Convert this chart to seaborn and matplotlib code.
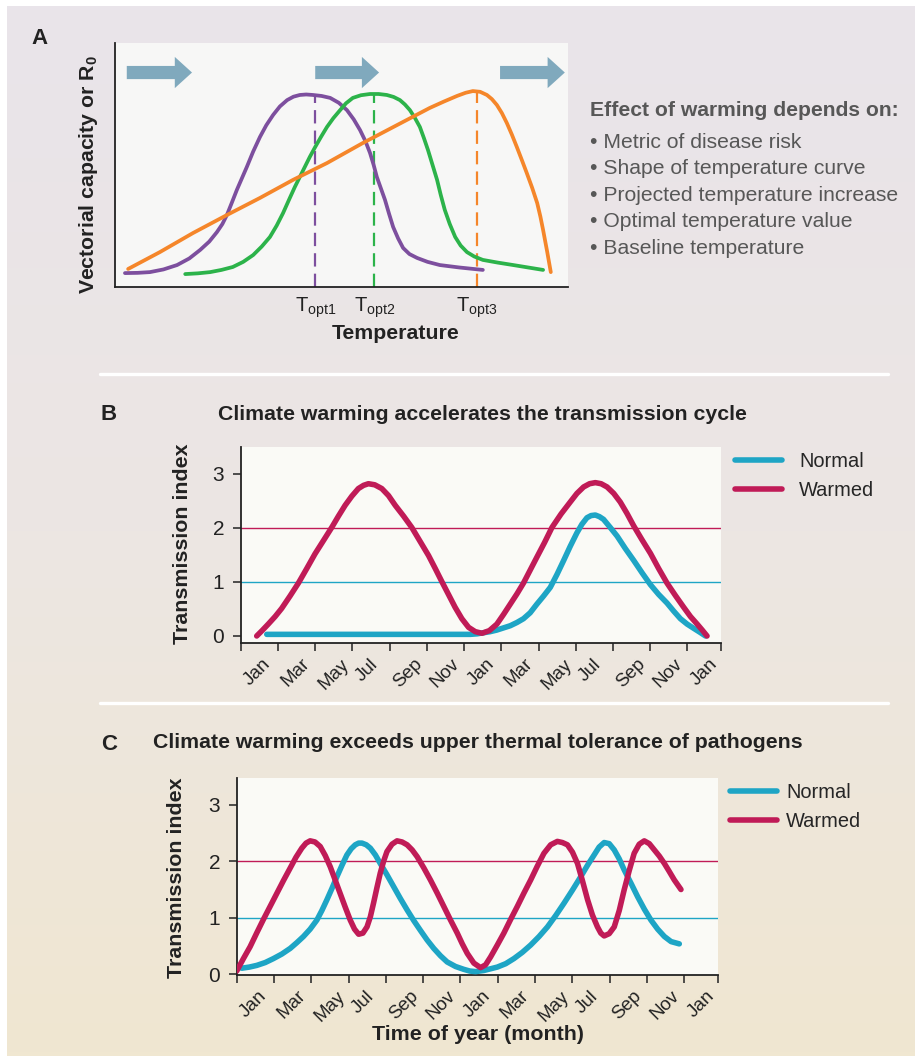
import numpy as np
import pandas as pd
import matplotlib.pyplot as plt
import seaborn as sns
from matplotlib.colors import LinearSegmentedColormap
from matplotlib.lines import Line2D
from matplotlib.patches import FancyArrow

# ---- Panel A: thermal performance curves (arbitrary units, 0-100)
purple_temp = [2.2, 5.0, 7.7, 10.7, 13.7, 16.4, 18.8, 20.8, 22.5, 23.7, 24.7, 25.8, 26.9,
               28.0, 29.1, 30.5, 32.0, 33.4, 34.9, 36.4, 38.0, 39.4, 40.8, 42.2, 43.7,
               45.6, 47.5, 49.4, 51.2, 52.7, 54.1, 55.3, 56.3, 57.1, 57.8, 58.7, 59.6,
               60.5, 61.4, 62.5, 63.6, 65.0, 66.7, 69.0, 71.7, 76.0, 81.2]
purple_cap = [5.7, 5.8, 6.1, 7.2, 9.0, 11.7, 15.2, 18.6, 22.5, 25.8, 29.5, 34.6, 39.8,
              44.5, 49.2, 55.5, 61.5, 66.3, 70.5, 74.0, 76.6, 78.0, 78.7, 78.9, 78.7,
              78.3, 77.5, 75.5, 72.5, 68.7, 64.3, 59.7, 54.9, 50.0, 45.1, 40.4, 35.7,
              30.0, 24.6, 19.9, 16.0, 13.5, 11.9, 10.3, 9.0, 8.0, 7.0]
green_temp = [15.5, 18.3, 21.0, 23.5, 26.0, 28.3, 30.5, 32.4, 34.2, 35.7, 37.1, 38.4, 39.7,
              40.8, 41.9, 43.0, 44.2, 45.5, 46.8, 48.2, 49.7, 51.0, 52.5, 54.3, 56.3,
              58.2, 60.0, 61.5, 62.9, 64.0, 65.1, 66.2, 67.3, 68.2, 69.1, 70.1, 71.1,
              71.9, 72.8, 73.9, 75.1, 76.3, 77.7, 79.3, 81.2, 84.5, 87.9, 91.2, 94.5]
green_cap = [5.3, 5.6, 6.1, 7.0, 8.2, 10.3, 13.1, 16.6, 20.5, 25.2, 30.3, 35.7, 41.0,
             45.1, 49.2, 53.3, 57.4, 61.6, 65.6, 69.2, 72.5, 75.3, 77.5, 78.6, 79.1,
             79.1, 78.7, 77.9, 76.6, 74.8, 72.5, 69.3, 65.6, 61.0, 56.1, 50.0, 43.9,
             37.8, 31.6, 25.8, 20.5, 17.0, 14.3, 12.5, 11.1, 10.0, 9.0, 8.0, 7.0]
orange_temp = [2.9, 9.9, 17.2, 24.7, 32.0, 39.3, 46.8, 54.7, 62.3, 66.0, 69.5, 72.6, 75.5,
               77.4, 79.0, 80.6, 82.1, 83.2, 84.3, 85.4, 86.5, 87.6, 88.7, 89.8, 90.9,
               92.1, 93.2, 93.9, 94.5, 95.4, 96.2]
orange_cap = [7.4, 14.3, 22.1, 29.5, 36.5, 43.9, 50.8, 59.0, 66.4, 70.0, 73.4, 76.0, 78.3,
              79.6, 80.3, 80.0, 78.7, 77.0, 74.6, 71.3, 67.2, 62.5, 57.4, 52.1, 46.7,
              40.6, 34.4, 28.9, 23.4, 14.5, 6.1]
topt_temp = [44.2, 57.2, 79.9]
topt_cap = [78.9, 79.1, 80.3]
topt_labels = [r'T$_{\rm opt1}$', r'T$_{\rm opt2}$', r'T$_{\rm opt3}$']
effect_title = 'Effect of warming depends on:'
effect_items = ['Metric of disease risk', 'Shape of temperature curve',
                'Projected temperature increase', 'Optimal temperature value',
                'Baseline temperature']

# ---- Panel B: accelerated transmission cycle (months since Jan)
b_warm_month = [0.86, 1.15, 1.48, 1.85, 2.20, 2.65, 3.10, 3.55, 3.99, 4.45, 4.89, 5.25,
                5.61, 5.97, 6.32, 6.60, 6.86, 7.20, 7.58, 7.94, 8.30, 8.75, 9.19, 9.64,
                10.09, 10.45, 10.80, 11.16, 11.52, 11.88, 12.24, 12.60, 12.96, 13.36,
                13.76, 14.12, 14.48, 14.84, 15.19, 15.55, 15.91, 16.32, 16.72, 17.21,
                17.70, 18.06, 18.42, 18.74, 19.05, 19.36, 19.68, 20.04, 20.39, 20.75,
                21.11, 21.56, 22.01, 22.45, 22.90, 23.35, 23.80, 24.16, 24.52, 24.79, 25.05]
b_warm = [0.00, 0.10, 0.22, 0.36, 0.51, 0.74, 0.98, 1.25, 1.52, 1.77, 2.01, 2.22,
          2.42, 2.59, 2.73, 2.79, 2.82, 2.80, 2.73, 2.60, 2.42, 2.22, 2.01, 1.75,
          1.49, 1.25, 1.01, 0.77, 0.53, 0.32, 0.16, 0.08, 0.05, 0.10,
          0.22, 0.40, 0.59, 0.78, 0.98, 1.22, 1.46, 1.73, 2.01, 2.26,
          2.48, 2.64, 2.76, 2.82, 2.84, 2.82, 2.76, 2.64, 2.48, 2.27,
          2.04, 1.78, 1.53, 1.25, 0.98, 0.75, 0.53, 0.36, 0.22, 0.11, 0.00]
b_norm_month = [1.40, 12.33, 12.70, 13.04, 13.40, 13.76, 14.12, 14.48, 14.84, 15.19, 15.55,
                15.91, 16.27, 16.63, 16.99, 17.35, 17.70, 18.06, 18.33, 18.60, 18.82,
                19.05, 19.27, 19.49, 19.85, 20.22, 20.66, 21.11, 21.56, 22.01, 22.45,
                22.90, 23.26, 23.62, 23.98, 24.34, 24.66, 24.97]
b_norm = [0.03, 0.03, 0.04, 0.06, 0.08, 0.11, 0.15, 0.19, 0.25, 0.32, 0.43,
          0.59, 0.74, 0.90, 1.14, 1.40, 1.66, 1.91, 2.07, 2.19, 2.23,
          2.24, 2.21, 2.16, 2.01, 1.85, 1.62, 1.40, 1.17, 0.95, 0.77,
          0.61, 0.46, 0.32, 0.22, 0.14, 0.07, 0.00]

# ---- Panel C: warming exceeds upper thermal tolerance
c_warm_month = [0.00, 0.36, 0.72, 1.07, 1.43, 1.79, 2.15, 2.51, 2.87, 3.18, 3.49, 3.72,
                3.94, 4.20, 4.48, 4.75, 5.02, 5.28, 5.55, 5.82, 6.09, 6.32, 6.54, 6.77,
                6.99, 7.17, 7.34, 7.52, 7.70, 7.88, 8.06, 8.33, 8.60, 8.87, 9.14, 9.41,
                9.68, 10.04, 10.39, 10.75, 11.11, 11.47, 11.83, 12.10, 12.37, 12.72,
                13.08, 13.35, 13.62, 13.98, 14.33, 14.69, 15.05, 15.41, 15.77, 16.12,
                16.48, 16.84, 17.20, 17.47, 17.74, 18.01, 18.28, 18.55, 18.82, 19.08,
                19.35, 19.53, 19.71, 19.98, 20.25, 20.52, 20.78, 21.05, 21.32, 21.59,
                21.86, 22.13, 22.40, 22.67, 22.94, 23.20, 23.47, 23.83]
c_warm = [0.06, 0.28, 0.49, 0.73, 0.97, 1.20, 1.43, 1.66, 1.88, 2.07, 2.23, 2.32,
          2.36, 2.34, 2.26, 2.10, 1.90, 1.67, 1.43, 1.19, 0.96, 0.80, 0.71, 0.73,
          0.84, 1.02, 1.26, 1.53, 1.79, 2.00, 2.17, 2.30, 2.36, 2.34, 2.29, 2.20,
          2.08, 1.88, 1.67, 1.44, 1.20, 0.96, 0.73, 0.54, 0.37, 0.20,
          0.12, 0.17, 0.31, 0.52, 0.73, 0.97, 1.20, 1.44, 1.67, 1.91,
          2.14, 2.29, 2.35, 2.33, 2.29, 2.16, 1.96, 1.65, 1.32, 1.05,
          0.84, 0.73, 0.68, 0.72, 0.84, 1.13, 1.49, 1.83, 2.14, 2.30,
          2.36, 2.31, 2.20, 2.09, 1.96, 1.82, 1.67, 1.50]
c_norm_month = [0.27, 0.68, 1.08, 1.53, 1.97, 2.42, 2.87, 3.22, 3.58, 3.94, 4.30, 4.57,
                4.84, 5.11, 5.38, 5.65, 5.91, 6.14, 6.36, 6.54, 6.72, 6.95, 7.17, 7.44,
                7.70, 8.06, 8.42, 8.78, 9.14, 9.50, 9.85, 10.21, 10.57, 10.93, 11.29,
                11.74, 12.18, 12.50, 12.81, 13.26, 13.62, 13.98, 14.43, 14.87, 15.32,
                15.77, 16.22, 16.67, 17.11, 17.56, 18.01, 18.46, 18.82, 19.17, 19.44,
                19.71, 19.98, 20.25, 20.52, 20.78, 21.15, 21.51, 21.87, 22.22, 22.58,
                22.94, 23.30, 23.74]
c_norm = [0.11, 0.13, 0.16, 0.21, 0.28, 0.36, 0.46, 0.56, 0.67, 0.80, 0.96, 1.13,
          1.32, 1.52, 1.73, 1.93, 2.11, 2.22, 2.29, 2.32, 2.32, 2.29, 2.23, 2.11,
          1.96, 1.76, 1.55, 1.34, 1.14, 0.95, 0.78, 0.61, 0.46, 0.33, 0.22,
          0.14, 0.09, 0.06, 0.05, 0.07, 0.10, 0.13, 0.19, 0.28, 0.39,
          0.52, 0.67, 0.84, 1.04, 1.26, 1.49, 1.73, 1.93, 2.11, 2.25,
          2.33, 2.31, 2.20, 2.04, 1.85, 1.61, 1.37, 1.15, 0.96, 0.80,
          0.67, 0.58, 0.54]

month_ticks = [0, 2, 4, 6, 8, 10, 12, 14, 16, 18, 20, 22, 24, 25.8]
month_labels = ['Jan', 'Mar', 'May', 'Jul', 'Sep', 'Nov', 'Jan', 'Mar', 'May', 'Jul',
                'Sep', 'Nov', 'Jan', '']
series_names = ['Normal', 'Warmed']

# colours
WARM = '#c01b57'
NORM = '#1ea5c5'
PURPLE = '#7d4f9e'
GREEN = '#2cb34a'
ORANGE = '#f5862a'
ARROW = '#80a9bd'
INK = '#222222'

sns.set_theme(style='ticks')
plt.rcParams['font.family'] = ['Liberation Sans', 'DejaVu Sans']
plt.rcParams['mathtext.fontset'] = 'custom'
plt.rcParams['mathtext.rm'] = 'Liberation Sans'
plt.rcParams['mathtext.bf'] = 'Liberation Sans:bold'

W, H = 915, 1056
fig = plt.figure(figsize=(W / 100, H / 100), dpi=100, facecolor='white')


def fx(px):
    return px / W


def fy(py):
    return 1 - py / H


def box(left, top, right, bottom):
    return [fx(left), fy(bottom), fx(right) - fx(left), (bottom - top) / H]


# background gradient
bg = fig.add_axes(box(7, 6, 915, 1056), zorder=-10)
cmap = LinearSegmentedColormap.from_list('bg', ['#e9e4ea', '#ece6e3', '#f0e7d1'])
bg.imshow(np.linspace(0, 1, 256)[:, None], aspect='auto', cmap=cmap,
          extent=[0, 1, 0, 1], origin='upper')
bg.axis('off')

for py in (374, 703):
    fig.add_artist(Line2D([fx(100), fx(888)], [fy(py), fy(py)], color='white',
                          lw=2.4, transform=fig.transFigure))

# ---------------- Panel A
axA = fig.add_axes(box(115, 43, 568, 287))
axA.set_facecolor('#f7f7f6')
dfA = pd.concat([
    pd.DataFrame({'temp': purple_temp, 'cap': purple_cap, 'curve': 'c1'}),
    pd.DataFrame({'temp': green_temp, 'cap': green_cap, 'curve': 'c2'}),
    pd.DataFrame({'temp': orange_temp, 'cap': orange_cap, 'curve': 'c3'}),
])
sns.lineplot(data=dfA, x='temp', y='cap', hue='curve',
             palette={'c1': PURPLE, 'c2': GREEN, 'c3': ORANGE},
             linewidth=2.7, legend=False, ax=axA, solid_capstyle='round')
for t, c, col in zip(topt_temp, topt_cap, [PURPLE, GREEN, ORANGE]):
    axA.plot([t, t], [0, c], color=col, lw=1.6, ls=(0, (6, 3.2)), zorder=1)
for x0, x1 in [(2.6, 17.0), (44.2, 58.3), (85.0, 99.3)]:
    axA.add_patch(FancyArrow(x0, 87.9, x1 - x0, 0, width=5.4, head_width=12.8,
                             head_length=3.8, length_includes_head=True,
                             color=ARROW, lw=0))
axA.set_xlim(0, 100)
axA.set_ylim(0, 100)
axA.set_yticks([])
axA.set_xticks(topt_temp)
axA.set_xticklabels(topt_labels, fontsize=14.5, color=INK)
axA.tick_params(axis='x', length=0, pad=6)
axA.set_xlabel('')
axA.set_ylabel('')
sns.despine(ax=axA)
for s in ('left', 'bottom'):
    axA.spines[s].set_color(INK)
    axA.spines[s].set_linewidth(1.3)

fig.text(fx(40), fy(38), 'A', fontsize=16, fontweight='bold', color=INK,
         ha='center', va='center')
fig.text(fx(89), fy(175), r'Vectorial capacity or R$_\mathbf{0}$', rotation=90,
         fontsize=15.3, fontweight='bold', color=INK, ha='center', va='center')
fig.text(fx(396), fy(333), 'Temperature', fontsize=15.3, fontweight='bold', color=INK,
         ha='center', va='center')
fig.text(fx(590), fy(110), effect_title, fontsize=15.2, fontweight='bold',
         color='#575757', ha='left', va='center')
for i, item in enumerate(effect_items):
    fig.text(fx(590), fy(142 + 26.6 * i), '\u2022 ' + item, fontsize=15.2,
             color='#575757', ha='left', va='center')


# ---------------- Panels B and C
def transmission_panel(rect, ylim, warm_m, warm_v, norm_m, norm_v):
    ax = fig.add_axes(rect)
    ax.set_facecolor('#fafaf6')
    df = pd.concat([
        pd.DataFrame({'month': norm_m, 'index': norm_v, 'series': 'Normal'}),
        pd.DataFrame({'month': warm_m, 'index': warm_v, 'series': 'Warmed'}),
    ])
    ax.axhline(1, color=NORM, lw=1.0, zorder=1)
    ax.axhline(2, color=WARM, lw=1.0, zorder=1)
    sns.lineplot(data=df, x='month', y='index', hue='series', hue_order=series_names,
                 palette={'Normal': NORM, 'Warmed': WARM}, linewidth=4.0,
                 legend=False, ax=ax, solid_capstyle='round', zorder=3)
    ax.set_xlim(0, 25.8)
    ax.set_ylim(*ylim)
    ax.set_yticks([0, 1, 2, 3])
    ax.set_yticklabels(['0', '1', '2', '3'], fontsize=15, color=INK)
    ax.set_xticks(month_ticks)
    ax.set_xticklabels(month_labels, rotation=45, ha='left', va='top',
                       fontsize=13.5, color=INK)
    ax.tick_params(axis='both', length=6, width=1.1, color=INK, direction='out')
    ax.tick_params(axis='y', pad=6)
    ax.tick_params(axis='x', pad=3)
    ax.set_xlabel('')
    ax.set_ylabel('')
    sns.despine(ax=ax)
    for s in ('left', 'bottom'):
        ax.spines[s].set_color(INK)
        ax.spines[s].set_linewidth(1.3)
    return ax


axB = transmission_panel(box(240.7, 447, 721, 643), (-0.13, 3.5),
                         b_warm_month, b_warm, b_norm_month, b_norm)
axC = transmission_panel(box(236.7, 778, 717.7, 975), (-0.01, 3.47),
                         c_warm_month, c_warm, c_norm_month, c_norm)

handles = [Line2D([], [], color=NORM, lw=4.0, solid_capstyle='round'),
           Line2D([], [], color=WARM, lw=4.0, solid_capstyle='round')]
for ax, lx, ly, pad in [(axB, 735, 452, 0.85), (axC, 730, 783, 0.45)]:
    ax.legend(handles, series_names, loc='upper left', bbox_to_anchor=(fx(lx), fy(ly)),
              bbox_transform=fig.transFigure, frameon=False, fontsize=14.4,
              handlelength=2.35, handletextpad=pad, labelspacing=0.5,
              borderpad=0, borderaxespad=0)

fig.text(fx(109), fy(414), 'B', fontsize=16, fontweight='bold', color=INK,
         ha='center', va='center')
fig.text(fx(482), fy(414), 'Climate warming accelerates the transmission cycle',
         fontsize=15.3, fontweight='bold', color=INK, ha='center', va='center')
fig.text(fx(182), fy(544), 'Transmission index', rotation=90, fontsize=15.4,
         fontweight='bold', color=INK, ha='center', va='center')

fig.text(fx(109), fy(744), 'C', fontsize=16, fontweight='bold', color=INK,
         ha='center', va='center')
fig.text(fx(478), fy(743), 'Climate warming exceeds upper thermal tolerance of pathogens',
         fontsize=15.3, fontweight='bold', color=INK, ha='center', va='center')
fig.text(fx(177), fy(878), 'Transmission index', rotation=90, fontsize=15.4,
         fontweight='bold', color=INK, ha='center', va='center')
fig.text(fx(478), fy(1035), 'Time of year (month)', fontsize=15.4, fontweight='bold',
         color=INK, ha='center', va='center')

fig.savefig('out.png', dpi=100)
